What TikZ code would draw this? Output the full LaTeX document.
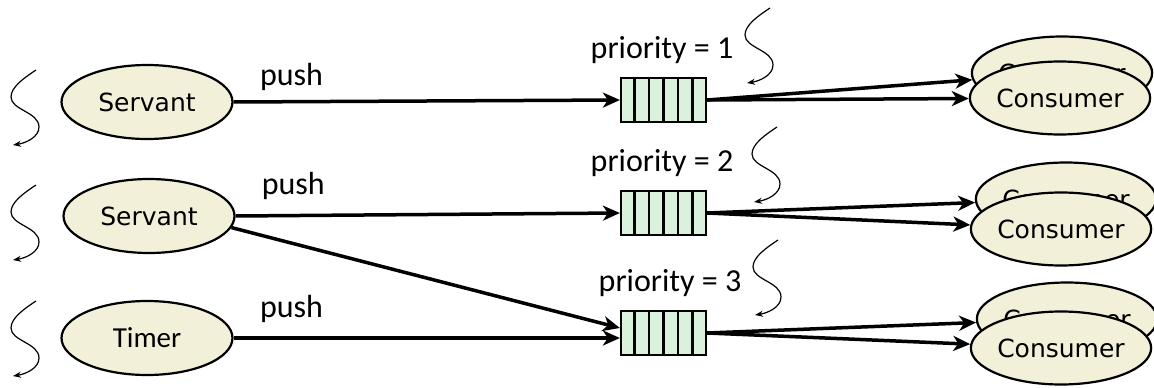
\documentclass[tikz,border=0pt]{standalone}
\usepackage{fontspec}
\setmainfont{DejaVu Sans}
\newfontfamily\calfont{Carlito}
\usetikzlibrary{shapes.geometric,arrows.meta,calc}
\definecolor{beige}{HTML}{F3F0D9}
\definecolor{qgreen}{HTML}{DAF2DC}
\begin{document}
\begin{tikzpicture}[x=1pt,y=-1pt,
  proc/.style={ellipse,draw,line width=2.2pt,fill=beige,minimum width=171pt,minimum height=74pt,inner sep=0pt,font=\fontsize{25}{30}\selectfont},
  cons/.style={proc,minimum width=170pt,minimum height=73pt},
  queuebox/.style={draw,line width=2.2pt,fill=qgreen,minimum width=85pt,minimum height=44pt,inner sep=0pt},
  flow/.style={line width=3.5pt,-{Stealth[length=17pt,width=15pt,inset=5pt]}},
  lbl/.style={font=\calfont\fontsize{32}{38}\selectfont,inner sep=0pt},
  squig/.pic={\draw[line width=1.2pt,-{Stealth[length=8pt,width=6pt]}] (0,0) .. controls (-12,8) and (-25,17) .. (-25,27) .. controls (-25,40) and (3,42) .. (3,57) .. controls (3,67) and (-10,73) .. (-23,75);}
]
\useasboundingbox (0,0) rectangle (1154,388);

% producers
\node[proc] (s1) at (147,102) {Servant};
\node[proc] (s2) at (149,216) {Servant};
\node[proc,font=\calfont\fontsize{29}{34}\selectfont] (t3) at (147,338) {Timer};

% queues
\foreach \n/\y in {q1/100,q2/213,q3/333}{
  \node[queuebox] (\n) at (663.5,\y) {};
  \foreach \i in {1,...,5}
    \draw[line width=2.2pt] ($(\n.north west)!\i/6!(\n.north east)$) -- ($(\n.south west)!\i/6!(\n.south east)$);
}

% priority labels
\node[lbl] (p1) at (662,50) {priority = 1};
\node[lbl] (p2) at (662,163) {priority = 2};
\node[lbl] (p3) at (670,283) {priority = 3};

% consumers
\node[cons] (c1b) at (1062,73) {Consumer};
\node[cons] (c1f) at (1060,98) {Consumer};
\node[cons] (c2b) at (1066,199) {Consumer};
\node[cons] (c2f) at (1061,229) {Consumer};
\node[cons] (c3b) at (1067,319) {Consumer};
\node[cons] (c3f) at (1061,348) {Consumer};

% push arrows
\draw[flow] (s1.east) -- (q1.west) node[lbl,pos=0.15,above=9pt] (l1) {push};
\draw[flow] (s2.east) -- (q2.west) node[lbl,pos=0.15,above=14pt] (l2) {push};
\draw[flow] (s2.-8) -- ([yshift=5pt]q3.west);
\draw[flow] (t3.east) -- ([yshift=-5pt]q3.west) node[lbl,pos=0.15,above=14pt] (l3) {push};

% dispatch arrows
\draw[flow] (q1.east) -- (c1b);
\draw[flow] (q1.east) -- (c1f);
\draw[flow] (q2.east) -- (c2b);
\draw[flow] (q2.east) -- (c2f);
\draw[flow] (q3.east) -- (c3b);
\draw[flow] (q3.east) -- (c3f);

% thread squiggles
\pic at (36,70) {squig};
\pic at (36,185) {squig};
\pic at (36,301) {squig};
\pic at (770,8) {squig};
\pic at (777,127) {squig};
\pic at (778,240) {squig};
\end{tikzpicture}
\end{document}
